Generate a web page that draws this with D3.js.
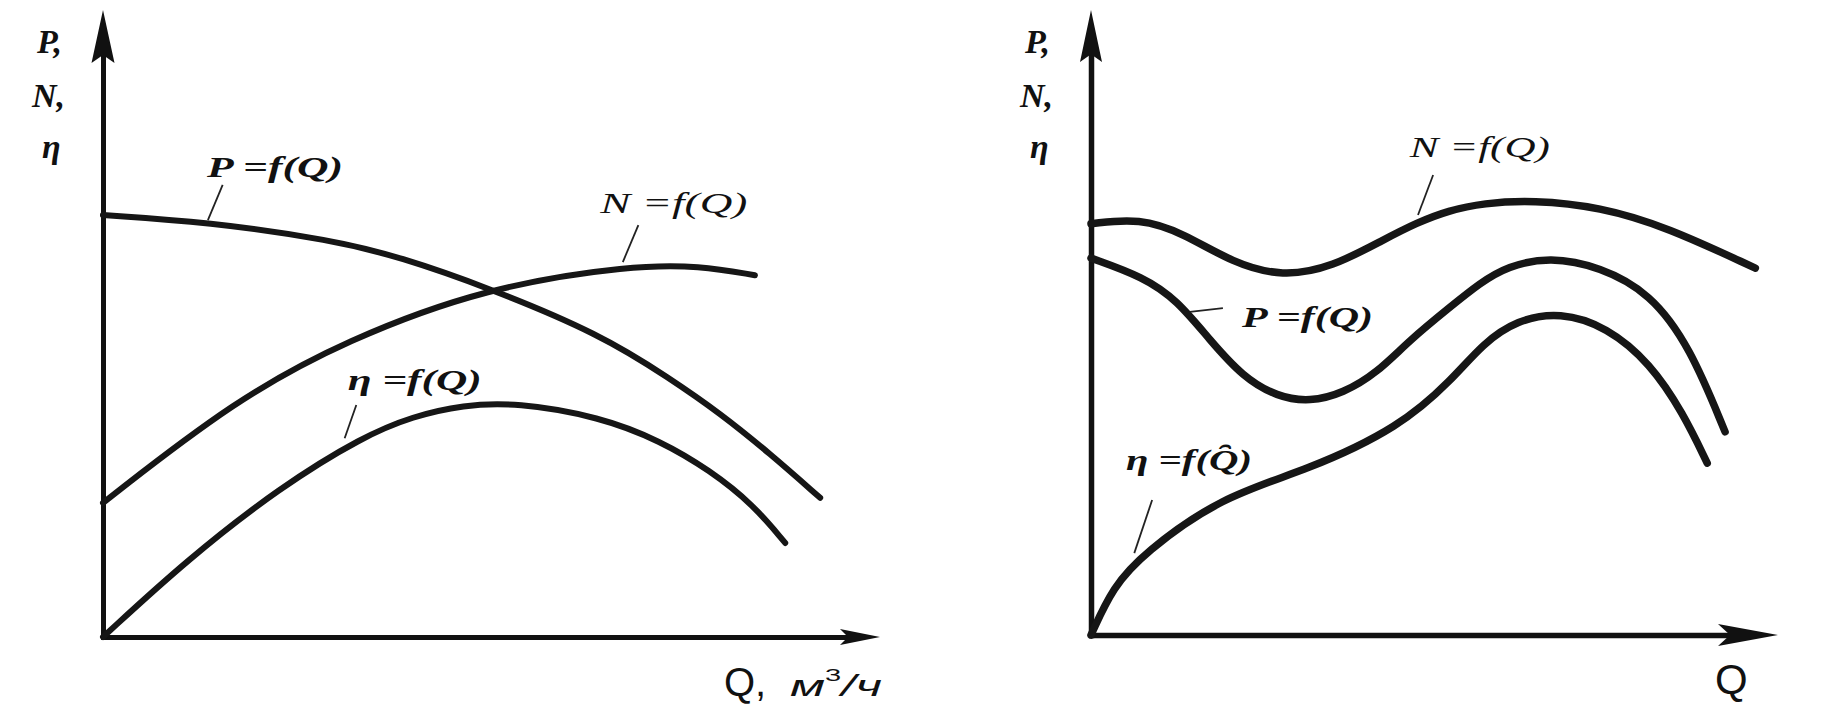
<!DOCTYPE html>
<html>
<head>
<meta charset="utf-8">
<script src="https://cdn.jsdelivr.net/npm/d3@7"></script>
<style>
  html, body { margin: 0; padding: 0; background: #fff; }
  svg { display: block; }
</style>
</head>
<body>
<svg id="chart" width="1844" height="711"></svg>
<script>
// ---------------- DATA (arbitrary units 0..100) ----------------
// Left panel: pump characteristic
const leftP   = [[0,67.3],[13.4,66.2],[29.6,63.3],[38.2,60.6],[49.4,55.8],[64.0,48.3],[73.0,41.2],[79.4,35.7],[85.8,29.3],[92.3,22.2]];
const leftN   = [[0,21.4],[17.0,37.8],[31.4,47.4],[49.4,55.8],[68.2,59.3],[76.8,59.2],[83.9,57.7]];
const leftEta = [[0,0],[10.8,12.3],[22.8,23.9],[33.5,32.0],[39.9,35.2],[46.3,37.0],[53.2,37.4],[64.0,35.1],[71.7,31.3],[78.1,26.6],[83.7,21.1],[87.8,15.0]];

// Right panel: wavy characteristics
const rightN   = [[0,65.8],[7.1,66.7],[13.4,64.3],[20.7,59.5],[27.9,57.3],[35.2,58.9],[42.5,63.2],[47.5,66.0],[52.0,67.9],[57.1,69.1],[64.3,69.6],[74.1,68.5],[83.8,65.3],[96.7,58.7]];
const rightP   = [[0,60.3],[7.6,57.3],[12.5,53.6],[17.3,47.2],[22.1,41.3],[27.1,38.1],[31.9,37.3],[36.7,38.7],[41.6,41.9],[46.4,47.2],[52.3,52.5],[56.6,56.3],[60.6,59.0],[66.8,60.5],[74.1,58.9],[81.4,54.7],[87.2,46.1],[92.3,32.5]];
const rightEta = [[0,0],[3.2,7.7],[7.7,13.1],[18.9,22.1],[31.6,26.4],[45.0,33.3],[52.5,40.8],[57.1,46.7],[62.0,50.4],[68.3,51.7],[75.1,49.3],[81.4,43.5],[86.2,35.5],[89.7,27.5]];

// Texts
const yAxisLetters = ["P,", "N,", "η"];
const leftLabels  = ["P =f(Q)", "N =f(Q)", "η =f(Q)"];
const rightLabels = ["N =f(Q)", "P =f(Q)", "η =f(Q\u0311)"];
const leftXTitle  = ["Q,", "м", "3", "/ч"];
const rightXTitle = "Q";

// Label anchors & leader lines in data units: [labelQ, labelV, fromQ, fromV, toQ, toV]
const leftAnn  = [[13.4,73.4, 15.4,72.1, 13.5,66.5],[64.0,67.6, 68.9,65.7, 66.9,59.8],[31.5,39.4, 32.6,37.0, 31.1,31.7]];
const rightAnn = [[46.4,76.5, 49.8,73.6, 47.6,67.2],[22.0,49.3, 14.4,51.7, 19.2,52.3],[5.1,26.4, 8.9,21.6, 6.3,13.1]];

// ---------------- LAYOUT ----------------
const svg = d3.select("#chart");
const serif = "'Liberation Serif','Times New Roman',serif";
const sans = "'Liberation Sans',Arial,sans-serif";

const panels = [
  { x0: 103, x1: 880, y0: 637, y1: 10, curveW: 6, axisW: 5, xArrow: [40, 8], yArrow: [53, 11.5],
    series: [leftP, leftN, leftEta], labels: leftLabels, ann: leftAnn, labelW: [136, 147, 134] },
  { x0: 1091, x1: 1778, y0: 635, y1: 10, curveW: 7.5, axisW: 5.5, xArrow: [60, 11], yArrow: [52, 11],
    series: [rightN, rightP, rightEta], labels: rightLabels, ann: rightAnn, labelW: [140, 131, 126] }
];

panels.forEach((p, pi) => {
  const x = d3.scaleLinear().domain([0, 100]).range([p.x0, p.x1]);
  const y = d3.scaleLinear().domain([0, 100]).range([p.y0, p.y1]);
  const g = svg.append("g");

  // axes (no ticks), shortened so the arrowheads cover the ends
  const xAxisScale = x.copy().range([p.x0 - p.axisW / 2, p.x1 - p.xArrow[0] * 0.6]);
  const yAxisScale = y.copy().range([p.y0 + p.axisW / 2, p.y1 + p.yArrow[0] * 0.6]);
  const gx = g.append("g").attr("transform", `translate(0,${y(0)})`)
    .call(d3.axisBottom(xAxisScale).tickValues([]).tickSizeOuter(0));
  const gy = g.append("g").attr("transform", `translate(${x(0)},0)`)
    .call(d3.axisLeft(yAxisScale).tickValues([]).tickSizeOuter(0));
  [gx, gy].forEach(a => a.select(".domain").attr("stroke", "#111").attr("stroke-width", p.axisW));

  // arrowheads
  const tipX = x(100), ay = y(0);
  g.append("path")
    .attr("d", `M${tipX},${ay} L${tipX - p.xArrow[0]},${ay - p.xArrow[1]} L${tipX - p.xArrow[0] * 0.8},${ay} L${tipX - p.xArrow[0]},${ay + p.xArrow[1]} Z`)
    .attr("fill", "#111");
  const tipY = y(100), ax = x(0);
  g.append("path")
    .attr("d", `M${ax},${tipY} L${ax - p.yArrow[1]},${tipY + p.yArrow[0]} L${ax},${tipY + p.yArrow[0] * 0.85} L${ax + p.yArrow[1]},${tipY + p.yArrow[0]} Z`)
    .attr("fill", "#111");

  // curves
  const line = d3.line().x(d => x(d[0])).y(d => y(d[1])).curve(d3.curveBasis);
  p.series.forEach(s => {
    g.append("path").datum(s).attr("d", line)
      .attr("fill", "none").attr("stroke", "#161616")
      .attr("stroke-width", p.curveW).attr("stroke-linecap", "round");
  });

  // y-axis letters
  const letterDx = [-66, -71, -61];
  const letterBase = [53, 107, 158];
  yAxisLetters.forEach((t, i) => {
    g.append("text").text(t)
      .attr("x", x(0) + letterDx[i]).attr("y", letterBase[i])
      .attr("font-family", serif).attr("font-style", "italic").attr("font-weight", "bold")
      .attr("font-size", 34).attr("fill", "#111");
  });

  // curve labels + leader lines
  p.ann.forEach((a, i) => {
    g.append("text").text(p.labels[i])
      .attr("x", x(a[0])).attr("y", y(a[1]))
      .attr("font-family", serif).attr("font-style", "italic")
      .attr("font-weight", p.labels[i].startsWith("N") ? "normal" : "bold")
      .attr("font-size", 30).attr("fill", "#111")
      .attr("textLength", p.labelW[i]).attr("lengthAdjust", "spacingAndGlyphs");
    g.append("line")
      .attr("x1", x(a[2])).attr("y1", y(a[3])).attr("x2", x(a[4])).attr("y2", y(a[5]))
      .attr("stroke", "#222").attr("stroke-width", 1.8);
  });

  // x-axis titles
  if (pi === 0) {
    g.append("text").text(leftXTitle[0]).attr("x", 724).attr("y", 696).attr("fill", "#111")
      .attr("font-family", sans).attr("font-size", 40);
    const t = g.append("text").attr("x", 790).attr("y", 696).attr("fill", "#111")
      .attr("font-family", sans).attr("font-style", "italic")
      .attr("textLength", 92).attr("lengthAdjust", "spacingAndGlyphs");
    t.append("tspan").text(leftXTitle[1]).attr("font-size", 30);
    t.append("tspan").text(leftXTitle[2]).attr("dy", -15).attr("font-style", "normal").attr("font-size", 17);
    t.append("tspan").text(leftXTitle[3]).attr("dy", 15).attr("font-size", 30);
  } else {
    g.append("text").text(rightXTitle).attr("x", 1715).attr("y", 694)
      .attr("font-family", sans).attr("font-size", 42).attr("fill", "#111");
  }
});
</script>
</body>
</html>
